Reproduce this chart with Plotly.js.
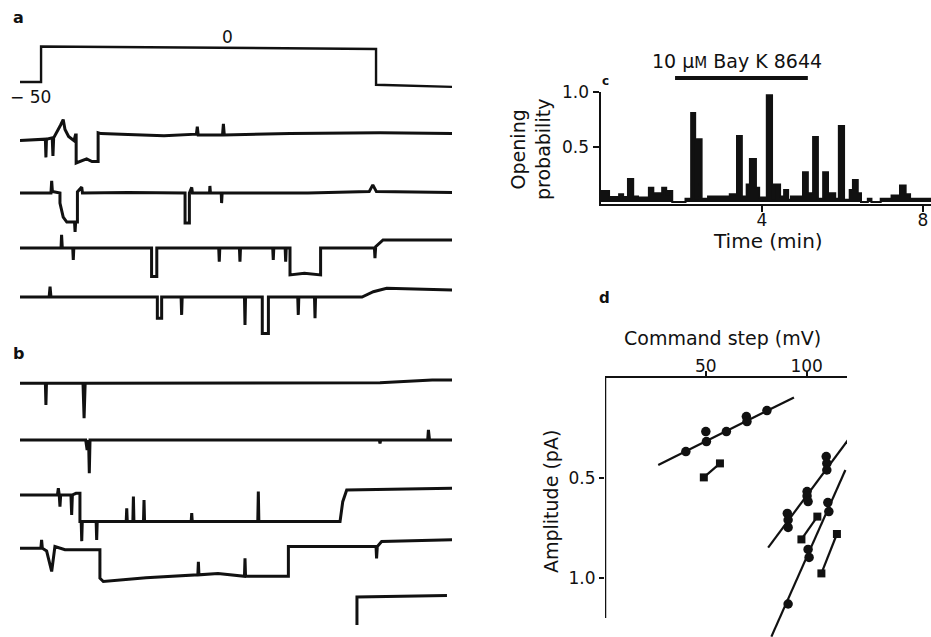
<!DOCTYPE html>
<html>
<head>
<meta charset="utf-8">
<script src="https://cdn.plot.ly/plotly-3.0.1.min.js"></script>
<style>html,body{margin:0;padding:0;background:#fff;}#plot{width:931px;height:637px;}</style>
</head>
<body>
<div id="plot"></div>
<script>
// ---------- DATA ----------
// Panel a: voltage command (ms, mV)
const cmdTime = [0, 11.7, 11.7, 197.8, 197.8, 240.5];
const cmdMV   = [-50, -50, 0, -3.5, -54, -57];

// Panel a/b single-channel traces: time (ms) and current (pA, relative to each sweep baseline)
const a1T = [0, 12.8, 14.1, 14.4, 14.7, 17.9, 18.3, 18.7, 20.5, 22.5, 24, 25, 27, 30, 30.8, 31.2, 31.2, 34, 37, 40, 43.4, 43.4, 45, 60, 80, 98, 98.5, 99, 112.5, 113, 113.5, 150, 200, 240.5];
const a1V = [-0.2, -0.15, -0.15, -0.8, -0.15, -0.1, -0.75, -0.1, 0.1, 0.35, 0.55, 0.2, -0.05, -0.2, 0.0, 0.0, -1.0, -0.92, -0.85, -0.95, -0.95, 0.08, 0.05, 0.02, -0.03, 0.03, 0.3, 0.0, 0.0, 0.4, 0.0, 0.05, 0.08, 0.05];

const a2T = [0, 17.2, 17.6, 18.0, 22.2, 22.2, 24, 26, 30.3, 30.6, 30.9, 31.9, 31.9, 34.3, 34.7, 60, 91.7, 91.7, 94.1, 94.1, 95.4, 95.8, 105.3, 105.5, 105.8, 111.8, 112, 112.3, 160, 194, 196, 198, 240.5];
const a2V = [0, 0, 0.43, 0.05, 0, -0.36, -0.86, -1.04, -1.04, -1.39, -1.04, -1.04, 0.04, 0.21, 0.0, 0.02, 0.0, -1.07, -1.07, 0.0, 0.2, 0.0, 0.0, 0.25, 0.0, 0.0, -0.36, 0.0, 0.0, 0.05, 0.29, 0.05, 0.02];

const a3T = [0, 22.8, 23.1, 23.5, 29.3, 29.6, 29.9, 73.1, 73.1, 76, 76, 110.4, 110.7, 111, 121.9, 122.2, 122.5, 140.4, 140.7, 141, 147.3, 147.6, 147.9, 150, 150, 158, 167, 167, 196.9, 197.2, 197.6, 201.7, 240.5];
const a3V = [0, 0, 0.47, 0, 0, -0.43, 0, 0, -1.02, -1.02, 0, 0, -0.49, 0, 0, -0.49, 0, 0, -0.43, 0, 0, -0.49, 0, 0, -0.96, -0.9, -0.96, 0, 0, -0.36, 0.05, 0.29, 0.29];

const a4T = [0, 16.2, 16.7, 17.2, 76.3, 76.3, 78.7, 78.7, 89.5, 89.8, 90.1, 124.7, 125, 125.3, 134.6, 134.6, 138, 138, 154.3, 154.6, 154.9, 163.6, 163.9, 164.2, 190, 196.3, 203.7, 240.5];
const a4V = [0, 0, 0.37, 0, 0, -0.76, -0.76, 0, 0, -0.64, 0, 0, -1.0, 0, 0, -1.3, -1.3, 0, 0, -0.64, 0, 0, -0.76, 0, 0, 0.19, 0.31, 0.25];

const b1T = [0, 14.1, 14.4, 14.7, 35.0, 35.6, 36.2, 200, 229, 240.5];
const b1V = [0, 0, -0.77, 0, 0, -1.25, 0, 0.02, 0.12, 0.12];

const b2T = [0, 36.5, 37.3, 38.1, 38.5, 38.9, 39.5, 199.6, 200, 200.4, 226.5, 226.9, 227.5, 240.5];
const b2V = [0, 0, -0.36, 0, -1.19, 0, 0, 0, -0.12, 0, 0, 0.36, 0, 0];

const b3T = [0, 20.8, 21.3, 21.8, 22.2, 22.6, 28.3, 28.7, 29.1, 31.1, 33.3, 33.3, 34.0, 34.3, 34.6, 42.3, 42.6, 42.9, 59.0, 59.3, 59.6, 62.7, 63.0, 63.3, 68.6, 68.9, 69.2, 95.1, 95.4, 95.7, 132.1, 132.4, 132.7, 177.8, 179.3, 181.5, 240.5];
const b3V = [0, 0, 0.24, 0, -0.42, 0, 0, -0.71, 0, 0.06, 0.06, -0.95, -0.95, -1.65, -0.95, -0.95, -1.61, -0.95, -0.95, -0.48, -0.95, -0.95, -0.06, -0.95, -0.95, -0.18, -0.95, -0.95, -0.65, -0.95, -0.95, 0.12, -0.95, -0.95, -0.24, 0.18, 0.24];

const b4T = [0, 11.6, 12, 12.4, 14.8, 17.6, 19.4, 25, 44.4, 44.4, 46.3, 70, 98.8, 99.1, 99.4, 110, 124.7, 125, 125.3, 149.1, 149.1, 197.8, 198.1, 198.5, 200.9, 240.5];
const b4V = [0, 0, 0.3, 0, -0.1, -0.83, 0.06, -0.05, -0.05, -1.07, -1.19, -1.05, -0.95, -0.48, -0.95, -0.9, -1.0, -0.36, -1.0, -1.0, 0.06, 0.06, -0.36, 0.06, 0.24, 0.3];

// Scale bar (ms, pA)
const scaleMs = 50, scalePA = 1;

// Panel c: opening probability histogram (segment start in min, value)
const cTime = [0.00, 0.20, 0.45, 0.55, 0.67, 0.80, 0.92, 1.19, 1.30, 1.52, 1.62, 1.67, 1.77, 2.10, 2.24, 2.34, 2.39, 2.50, 2.66, 3.20, 3.38, 3.50, 3.62, 3.70, 3.85, 3.93, 4.12, 4.25, 4.30, 4.45, 4.55, 4.65, 4.72, 5.02, 5.14, 5.27, 5.39, 5.52, 5.64, 5.82, 5.91, 6.04, 6.18, 6.26, 6.38, 6.46, 6.63, 6.72, 6.95, 7.22, 7.43, 7.57, 7.68, 8.20];
const cProb = [0.10, 0.045, 0.07, 0.045, 0.21, 0.05, 0.04, 0.13, 0.08, 0.13, 0.07, 0.10, 0.0, 0.03, 0.81, 0.03, 0.57, 0.03, 0.05, 0.07, 0.60, 0.05, 0.16, 0.39, 0.13, 0.04, 0.97, 0.03, 0.16, 0.05, 0.11, 0.02, 0.05, 0.27, 0.08, 0.59, 0.03, 0.27, 0.08, 0.03, 0.69, 0.02, 0.11, 0.20, 0.08, 0.0, 0.03, 0.0, 0.03, 0.06, 0.15, 0.07, 0.03, 0.03];
const bayKMin = [1.84, 5.14];

// Panel d: amplitude vs command step
const circX = [40.1, 50, 50.3, 60.2, 70.1, 70.4, 80.3, 90.4, 90.8, 90.8, 100.2, 100.2, 100.7, 109.7, 110, 110, 90.8, 100.7, 101.2, 110.5, 111];
const circY = [0.368, 0.268, 0.318, 0.268, 0.193, 0.218, 0.163, 0.677, 0.71, 0.747, 0.568, 0.59, 0.618, 0.393, 0.427, 0.46, 1.13, 0.857, 0.897, 0.623, 0.668];
const fit1X = [26.4, 93.7],  fit1Y = [0.435, 0.097];
const fit2X = [80.9, 120.5], fit2Y = [0.848, 0.31];
const fit3X = [82.5, 119.2], fit3Y = [1.293, 0.46];
const sq1X = [49, 57],       sq1Y = [0.497, 0.427];
const sq2X = [97.4, 105.3],  sq2Y = [0.807, 0.693];
const sq3X = [107.3, 115],   sq3Y = [0.977, 0.78];

// ---------- LAYOUT HELPERS ----------
const W = 931, H = 637;
const fx = p => p / W;
const fy = p => 1 - p / H;
const INK = '#111';
const FONT = 'DejaVu Sans, Liberation Sans, sans-serif';

const sweeps = [[a1T,a1V],[a2T,a2V],[a3T,a3V],[a4T,a4V],[b1T,b1V],[b2T,b2V],[b3T,b3V],[b4T,b4V]];
const sweepOffsets = [0, -2.071, -4.036, -5.786, -8.868, -10.893, -12.857, -14.76];

const traces = [];
// command step
traces.push({x: cmdTime, y: cmdMV, xaxis:'x3', yaxis:'y4', mode:'lines', line:{color:INK, width:2.4}, hoverinfo:'skip'});
sweeps.forEach((s, i) => {
  traces.push({x: s[0], y: s[1].map(v => v + sweepOffsets[i]), xaxis:'x3', yaxis:'y3', mode:'lines',
    line:{color:INK, width:3}, hoverinfo:'skip'});
});
// scale bar
const sbT0 = 187.2, sbY0 = -16.5;
traces.push({x:[sbT0 + scaleMs, sbT0, sbT0], y:[sbY0 + 0.05, sbY0, sbY0 - scalePA], xaxis:'x3', yaxis:'y3', mode:'lines',
  line:{color:INK, width:3}, hoverinfo:'skip'});

// panel c
traces.push({x: cTime, y: cProb, xaxis:'x', yaxis:'y', mode:'lines', line:{shape:'hv', color:INK, width:2},
  fill:'tozeroy', fillcolor:INK, hoverinfo:'skip'});

// panel d
[[fit1X,fit1Y],[fit2X,fit2Y],[fit3X,fit3Y]].forEach(f => traces.push({x:f[0], y:f[1], xaxis:'x2', yaxis:'y2', mode:'lines', line:{color:INK, width:2.2}, hoverinfo:'skip'}));
[[sq1X,sq1Y],[sq2X,sq2Y],[sq3X,sq3Y]].forEach(f => traces.push({x:f[0], y:f[1], xaxis:'x2', yaxis:'y2', mode:'lines+markers', line:{color:INK, width:2.2}, marker:{symbol:'square', size:8, color:INK}, hoverinfo:'skip'}));
traces.push({x:circX, y:circY, xaxis:'x2', yaxis:'y2', mode:'markers', marker:{symbol:'circle', size:9.5, color:INK}, hoverinfo:'skip'});

const ann = (text, x, y, size, extra) => Object.assign({text, x:fx(x), y:fy(y), xref:'paper', yref:'paper', showarrow:false,
  xanchor:'center', yanchor:'middle', font:{family:FONT, size, color:INK}}, extra || {});

const layout = {
  width: W, height: H,
  margin: {l:0, r:0, t:0, b:0, pad:0},
  paper_bgcolor:'#fff', plot_bgcolor:'rgba(0,0,0,0)',
  showlegend:false,
  font:{family:FONT, color:INK, size:16},
  xaxis:{domain:[fx(601), 1], range:[0, 8.2], anchor:'y', tickvals:[4,8], ticktext:['4','8'], ticks:'outside', ticklen:6, tickwidth:2.5,
    tickcolor:INK, showline:true, linewidth:2, linecolor:INK, showgrid:false, zeroline:false, tickfont:{size:17}, ticklabelstandoff:-7},
  yaxis:{domain:[fy(204.2), fy(92)], range:[-0.02, 1.0], anchor:'x', tickvals:[0.5,1.0], ticktext:['0.5','1.0'], ticks:'outside', ticklen:6, tickwidth:2.5,
    tickcolor:INK, showline:true, linewidth:2.5, linecolor:INK, showgrid:false, zeroline:false, tickfont:{size:17}},
  xaxis2:{domain:[fx(605), fx(847)], range:[0, 120], anchor:'y2', side:'top', tickvals:[50,100], ticktext:['50','100'], ticks:'outside', ticklen:5, tickwidth:2,
    tickcolor:INK, showline:true, linewidth:2.5, linecolor:INK, showgrid:false, zeroline:false, tickfont:{size:17}, ticklabelstandoff:-8},
  yaxis2:{domain:[0, fy(378)], range:[1.295, 0], anchor:'x2', tickvals:[0.5,1.0], ticktext:['0.5','1.0'], ticks:'outside', ticklen:5, tickwidth:2,
    tickcolor:INK, showline:false, showgrid:false, zeroline:false, tickfont:{size:17}},
  xaxis3:{domain:[fx(20), fx(452)], range:[0, 240], anchor:'y3', visible:false},
  yaxis3:{domain:[0, fy(110)], range:[-17.93, 0.893], anchor:'x3', visible:false},
  yaxis4:{domain:[fy(100), fy(30)], range:[-75.4, 23.2], anchor:'x3', visible:false},
  shapes:[
    {type:'line', xref:'x2', yref:'y2', x0:0, x1:0, y0:0, y1:1.2, line:{color:INK, width:2.5}},
    {type:'line', xref:'x', yref:'paper', x0:bayKMin[0], x1:bayKMin[1], y0:fy(78), y1:fy(78), line:{color:INK, width:4}}
  ],
  annotations:[
    ann('<b>a</b>', 18, 18, 16),
    ann('<b>b</b>', 18, 353, 16),
    ann('<b>c</b>', 605, 81, 12),
    ann('<b>d</b>', 604, 298, 15),
    ann('0', 227, 37, 17),
    ann('\u2212 50', 31, 97, 17),
    ann('10 \u00b5<span style="font-size:15px">M</span> Bay K 8644', 737, 61, 19),
    ann('Time (min)', 768, 241, 20),
    ann('Opening<br>probability', 530, 150, 19, {textangle:-90}),
    ann('Command step (mV)', 722, 338, 19),
    ann('Amplitude (pA)', 551, 502, 19, {textangle:-90})
  ]
};

Plotly.newPlot('plot', traces, layout, {staticPlot:true, displayModeBar:false});
</script>
</body>
</html>
